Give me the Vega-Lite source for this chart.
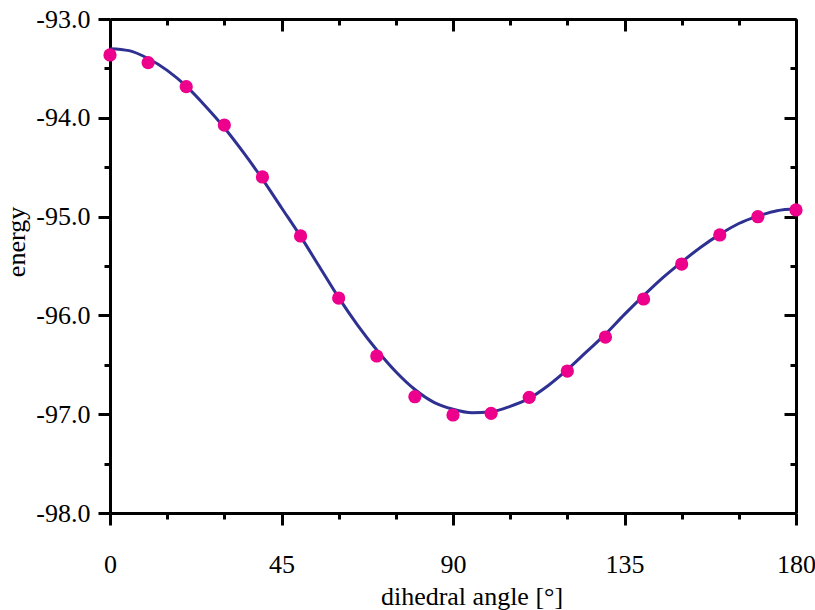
{
  "$schema": "https://vega.github.io/schema/vega-lite/v6.json",
  "width": 686,
  "height": 494,
  "autosize": {"type": "none"},
  "padding": {"left": 110, "top": 19, "right": 19, "bottom": 97},
  "background": "white",
  "datasets": {
    "curve": [
      {"angle": 0, "energy": -93.30},
      {"angle": 5, "energy": -93.32},
      {"angle": 10, "energy": -93.40},
      {"angle": 15, "energy": -93.52},
      {"angle": 20, "energy": -93.68},
      {"angle": 25, "energy": -93.88},
      {"angle": 30, "energy": -94.10},
      {"angle": 35, "energy": -94.35},
      {"angle": 40, "energy": -94.62},
      {"angle": 45, "energy": -94.91},
      {"angle": 50, "energy": -95.20},
      {"angle": 55, "energy": -95.51},
      {"angle": 60, "energy": -95.82},
      {"angle": 65, "energy": -96.10},
      {"angle": 70, "energy": -96.35},
      {"angle": 75, "energy": -96.57},
      {"angle": 80, "energy": -96.75},
      {"angle": 85, "energy": -96.88},
      {"angle": 90, "energy": -96.95},
      {"angle": 95, "energy": -96.985},
      {"angle": 100, "energy": -96.975},
      {"angle": 105, "energy": -96.92},
      {"angle": 110, "energy": -96.84},
      {"angle": 115, "energy": -96.71},
      {"angle": 120, "energy": -96.55},
      {"angle": 125, "energy": -96.37},
      {"angle": 130, "energy": -96.19},
      {"angle": 135, "energy": -95.99},
      {"angle": 140, "energy": -95.80},
      {"angle": 145, "energy": -95.62},
      {"angle": 150, "energy": -95.46},
      {"angle": 155, "energy": -95.31},
      {"angle": 160, "energy": -95.18},
      {"angle": 165, "energy": -95.07},
      {"angle": 170, "energy": -94.995},
      {"angle": 175, "energy": -94.94},
      {"angle": 180, "energy": -94.92}
    ],
    "points": [
      {"angle": 0, "energy": -93.364},
      {"angle": 10, "energy": -93.442},
      {"angle": 20, "energy": -93.685},
      {"angle": 30, "energy": -94.073},
      {"angle": 40, "energy": -94.599},
      {"angle": 50, "energy": -95.196},
      {"angle": 60, "energy": -95.824},
      {"angle": 70, "energy": -96.411},
      {"angle": 80, "energy": -96.823},
      {"angle": 90, "energy": -97.008},
      {"angle": 100, "energy": -96.991},
      {"angle": 110, "energy": -96.829},
      {"angle": 120, "energy": -96.563},
      {"angle": 130, "energy": -96.219},
      {"angle": 140, "energy": -95.834},
      {"angle": 150, "energy": -95.480},
      {"angle": 160, "energy": -95.186},
      {"angle": 170, "energy": -95.001},
      {"angle": 180, "energy": -94.933}
    ]
  },
  "config": {
    "view": {"stroke": null},
    "axis": {
      "grid": false,
      "domainColor": "black",
      "domainWidth": 3,
      "tickColor": "black",
      "tickWidth": 3,
      "labelFont": "Liberation Serif",
      "labelFontSize": 26,
      "labelColor": "black",
      "titleFont": "Liberation Serif",
      "titleFontSize": 26,
      "titleFontWeight": "normal",
      "titleColor": "black",
      "labelOverlap": false,
      "labelFlush": false
    }
  },
  "resolve": {"axis": {"x": "independent", "y": "independent"}},
  "layer": [
    {
      "data": {"name": "curve"},
      "mark": {"type": "line", "color": "#2E3192", "strokeWidth": 3, "interpolate": "monotone"},
      "encoding": {
        "x": {
          "field": "angle", "type": "quantitative",
          "scale": {"domain": [0, 180], "nice": false, "zero": false},
          "axis": {
            "orient": "bottom",
            "title": "dihedral angle [°]",
            "values": [0, 15, 30, 45, 60, 75, 90, 105, 120, 135, 150, 165, 180],
            "labelExpr": "datum.value % 45 === 0 ? datum.label : ''",
            "tickSize": {"condition": {"test": "datum.value % 45 === 0", "value": 12}, "value": 6},
            "labelPadding": 26,
            "titleX": 361.5,
            "titleY": 91,
            "titleBaseline": "alphabetic",
            "titleAlign": "center"
          }
        },
        "y": {
          "field": "energy", "type": "quantitative",
          "scale": {"domain": [-98, -93], "nice": false, "zero": false},
          "axis": {
            "orient": "left",
            "title": "energy",
            "values": [-98, -97.5, -97, -96.5, -96, -95.5, -95, -94.5, -94, -93.5, -93],
            "labelExpr": "datum.value % 1 === 0 ? replace(format(datum.value, '.1f'), '\u2212', '-') : ''",
            "tickSize": {"condition": {"test": "datum.value % 1 === 0", "value": 12}, "value": 6},
            "labelPadding": 8,
            "titleX": -86,
            "titleY": 222.5,
            "titleAngle": -90,
            "titleBaseline": "alphabetic",
            "titleAlign": "center"
          }
        }
      }
    },
    {
      "data": {"name": "points"},
      "mark": {"type": "point", "filled": true, "color": "#EC008C", "size": 175, "opacity": 1},
      "encoding": {
        "x": {
          "field": "angle", "type": "quantitative",
          "axis": {
            "orient": "top",
            "title": null,
            "labels": false,
            "values": [0, 15, 30, 45, 60, 75, 90, 105, 120, 135, 150, 165, 180],
            "tickSize": {"condition": {"test": "datum.value % 45 === 0", "value": -12}, "value": -6}
          }
        },
        "y": {
          "field": "energy", "type": "quantitative",
          "axis": {
            "orient": "right",
            "title": null,
            "labels": false,
            "values": [-98, -97.5, -97, -96.5, -96, -95.5, -95, -94.5, -94, -93.5, -93],
            "tickSize": {"condition": {"test": "datum.value % 1 === 0", "value": -12}, "value": -6}
          }
        }
      }
    }
  ]
}
